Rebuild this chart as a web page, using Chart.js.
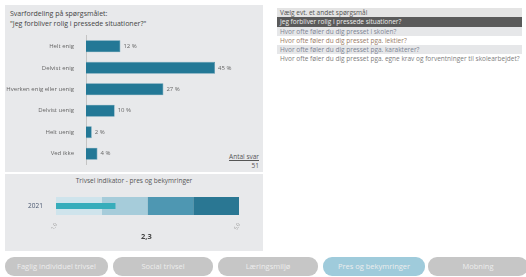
<!DOCTYPE html>
<html>
<head>
<meta charset="utf-8">
<script src="https://cdn.jsdelivr.net/npm/chart.js@4/dist/chart.umd.min.js"></script>
<style>
  body { margin: 0; width: 526px; height: 277px; background: #fff; font-family: "Open Sans", sans-serif; position: relative; overflow: hidden; }
  .panel { position: absolute; background: #e8e9eb; }
  .abs { position: absolute; white-space: nowrap; }
  #list { position: absolute; left: 277px; top: 8px; width: 245px; font-size: 6.5px; }
  #list div { height: 9.3px; line-height: 9.3px; padding-left: 3px; }
  .btn { position: absolute; top: 257px; height: 19px; line-height: 19px; border-radius: 9px; background: #c6c6c6; color: #ededed; font-size: 7.5px; text-align: center; }
</style>
</head>
<body>
<div class="panel" style="left:5px;top:5px;width:258px;height:167px"></div>
<div class="panel" style="left:5px;top:174px;width:258px;height:77px"></div>

<div class="abs" style="left:10px;top:9px;font-size:7px;color:#444;line-height:10px">Svarfordeling på spørgsmålet:<br>"Jeg forbliver rolig i pressede situationer?"</div>
<div class="abs" style="right:267px;top:152px;font-size:6.5px;color:#555;text-decoration:underline">Antal svar</div>
<div class="abs" style="right:267px;top:161px;font-size:6.5px;color:#555">51</div>

<canvas id="barChart" style="position:absolute;left:5px;top:28px"></canvas>

<div class="abs" style="left:5px;width:258px;top:176px;text-align:center;font-size:6.5px;color:#555">Trivsel indikator - pres og bekymringer</div>
<canvas id="bulletChart" style="position:absolute;left:5px;top:185px"></canvas>
<div class="abs" id="scoreText" style="left:141px;top:231px;font-size:7.5px;font-weight:bold;color:#444"></div>

<div id="list"></div>
<div id="buttons"></div>

<script>
'use strict';
var categories = ['Helt enig', 'Delvist enig', 'Hverken enig eller uenig', 'Delvist uenig', 'Helt uenig', 'Ved ikke'];
var percents = [12, 45, 27, 10, 2, 4];
var indicatorYear = ['2021'];
var indicatorScore = 2.3;
var bandEdges = [1, 2, 3, 4, 5];
var bandColors = ['#cfe4ec', '#a6ccda', '#4e97b2', '#2a7793'];
var questions = ['Vælg evt. et andet spørgsmål', 'Jeg forbliver rolig i pressede situationer?', 'Hvor ofte føler du dig presset i skolen?', 'Hvor ofte føler du dig presset pga. lektier?', 'Hvor ofte føler du dig presset pga. karakterer?', 'Hvor ofte føler du dig presset pga. egne krav og forventninger til skolearbejdet?'];
var tabs = ['Faglig individuel trivsel', 'Social trivsel', 'Læringsmiljø', 'Pres og bekymringer', 'Mobning'];

Chart.defaults.font.family = '"Open Sans", sans-serif';
Chart.defaults.animation = false;

// question list on the right
var rowStyles = [['#e4e4e4', '#555'], ['#5a5a5a', '#eee'], ['#e6e7e9', '#7d8494'], ['#fff', '#9a7c68'], ['#e6e7e9', '#7d8494'], ['#fff', '#7d7d7d']];
var list = document.getElementById('list');
for (var i = 0; i < questions.length; i++) {
  var row = document.createElement('div');
  row.textContent = questions[i];
  row.style.background = rowStyles[i][0];
  row.style.color = rowStyles[i][1];
  list.appendChild(row);
}

// tab buttons along the bottom
var btnLeft = [5, 113, 218, 323, 428];
var btnWidth = [103, 100, 100, 102, 100];
var buttons = document.getElementById('buttons');
for (var j = 0; j < tabs.length; j++) {
  var b = document.createElement('div');
  b.className = 'btn';
  b.textContent = tabs[j];
  b.style.left = btnLeft[j] + 'px';
  b.style.width = btnWidth[j] + 'px';
  if (j === 3) b.style.background = '#9fcbdb';
  buttons.appendChild(b);
}

// value labels after each bar
var valueLabels = {
  id: 'valueLabels',
  afterDatasetsDraw: function (chart) {
    var c = chart.ctx;
    var meta = chart.getDatasetMeta(0);
    c.save();
    c.font = '6px "Open Sans"';
    c.fillStyle = '#666';
    c.textBaseline = 'middle';
    meta.data.forEach(function (bar, k) {
      c.fillText(percents[k] + ' %', bar.x + 3, bar.y);
    });
    c.restore();
  }
};

var barCanvas = document.getElementById('barChart');
barCanvas.width = 258;
barCanvas.height = 144;
new Chart(barCanvas, {
  type: 'bar',
  data: {
    labels: categories,
    datasets: [{
      data: percents,
      backgroundColor: '#237896',
      borderColor: '#4f93ad',
      borderWidth: 0.6,
      barPercentage: 0.56,
      categoryPercentage: 1
    }]
  },
  options: {
    indexAxis: 'y',
    responsive: false,
    layout: { padding: { top: 0, bottom: 0, right: 5, left: 0 } },
    plugins: { legend: { display: false }, tooltip: { enabled: false } },
    scales: {
      x: { display: false, min: 0, max: 60 },
      y: {
        grid: { display: false },
        border: { display: true, color: '#c4c4c4', width: 1 },
        ticks: { color: '#666', font: { size: 6 }, padding: 4 },
        afterFit: function (s) { s.width = 81; }
      }
    }
  },
  plugins: [valueLabels]
});

// bullet style indicator
var bandSets = [];
for (var n = 0; n < bandColors.length; n++) {
  bandSets.push({
    data: [[bandEdges[n], bandEdges[n + 1]]],
    backgroundColor: bandColors[n],
    grouped: false,
    order: 2,
    barPercentage: 0.56,
    categoryPercentage: 1
  });
}
bandSets.push({
  data: [[bandEdges[0], indicatorScore]],
  backgroundColor: '#37adbb',
  grouped: false,
  order: 1,
  barPercentage: 0.19,
  categoryPercentage: 1
});

var bulletCanvas = document.getElementById('bulletChart');
bulletCanvas.width = 258;
bulletCanvas.height = 60;
new Chart(bulletCanvas, {
  type: 'bar',
  data: { labels: indicatorYear, datasets: bandSets },
  options: {
    indexAxis: 'y',
    responsive: false,
    layout: { padding: { top: 5, bottom: 0, right: 24, left: 23 } },
    plugins: { legend: { display: false }, tooltip: { enabled: false } },
    scales: {
      x: {
        min: bandEdges[0],
        max: bandEdges[bandEdges.length - 1],
        grid: { display: false },
        border: { display: false },
        afterBuildTicks: function (s) { s.ticks = [{ value: bandEdges[0] }, { value: bandEdges[bandEdges.length - 1] }]; },
        ticks: {
          color: '#9a9a9a',
          font: { size: 5 },
          minRotation: 60,
          maxRotation: 60,
          padding: -8,
          callback: function (v) { return v.toFixed(1).replace('.', ','); }
        },
        afterFit: function (s) { s.height = 23; }
      },
      y: {
        grid: { display: false },
        border: { display: false },
        ticks: { color: '#4a5870', font: { size: 6.5 }, padding: 0, crossAlign: 'far' },
        afterFit: function (s) { s.width = 28; }
      }
    }
  }
});

document.getElementById('scoreText').textContent = indicatorScore.toFixed(1).replace('.', ',');
</script>
</body>
</html>
